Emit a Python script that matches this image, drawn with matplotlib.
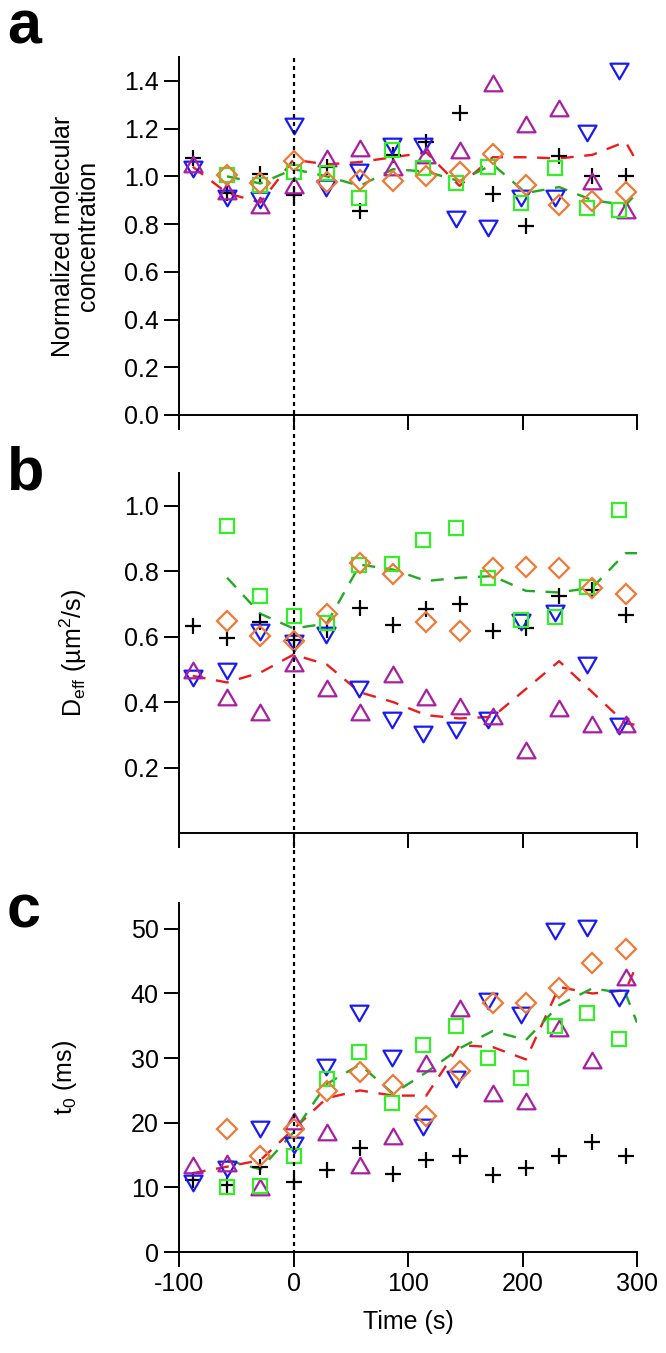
import matplotlib
matplotlib.use("Agg")
import matplotlib.pyplot as plt
from matplotlib.path import Path
from matplotlib.lines import Line2D
import matplotlib.transforms as mtransforms

plt.rcParams['font.family'] = ['Liberation Sans', 'DejaVu Sans']
plt.rcParams['mathtext.fontset'] = 'custom'
plt.rcParams['mathtext.rm'] = 'Liberation Sans'
plt.rcParams['mathtext.it'] = 'Liberation Sans:italic'
plt.rcParams['mathtext.default'] = 'regular'

# ---------------- data ----------------
t_black = [-88, -58, -29, 0, 29, 58, 87, 116, 145, 174, 203, 232, 261, 290]
t_magenta = [-88, -58, -29, 0, 29, 58, 87, 116, 145, 174, 203, 232, 261, 290]
t_blue = [-88, -58, -29, 0, 28, 57, 86, 113, 142, 170, 199, 228, 256, 284]
t_green = [-58, -29, 0, 29, 57, 86, 113, 142, 170, 199, 228, 256, 284]
t_orange = [-58, -29, 0, 29, 58, 87, 116, 145, 174, 203, 232, 261, 290]
t_red_line = [-88, -58, -29, 0, 29, 58, 87, 116, 145, 174, 203, 232, 261, 290, 300]
t_green_line = [-58, -29, 0, 29, 58, 87, 116, 145, 174, 203, 232, 261, 290, 300]

# panel a: normalized molecular concentration
a_black = [1.077, 0.93, 1.01, 0.923, 1.04, 0.856, 1.09, 1.144, 1.266, 0.926, 0.793, 1.084, 1.0, 1.0]
a_blue = [1.03, 0.91, 0.90, 1.21, 0.95, 1.02, 1.126, 1.126, 0.82, 0.783, 0.91, 0.91, 1.18, 1.44]
a_magenta = [1.05, 0.937, 0.88, 0.965, 1.077, 1.12, 1.04, 1.09, 1.11, 1.39, 1.22, 1.287, 0.98, 0.86]
a_green = [1.007, 0.965, 1.02, 1.015, 0.91, 1.11, 1.035, 0.972, 1.04, 0.888, 1.035, 0.867, 0.86]
a_orange = [1.007, 0.972, 1.063, 0.975, 0.986, 0.979, 1.0, 1.02, 1.094, 0.965, 0.88, 0.898, 0.934]
a_red_line = [1.04, 0.93, 0.89, 1.07, 1.05, 1.06, 1.08, 1.10, 0.96, 1.08, 1.08, 1.075, 1.09, 1.145, 1.06]
a_green_line = [1.0, 0.97, 1.03, 1.0, 0.96, 1.03, 1.02, 0.98, 1.05, 0.93, 0.955, 0.90, 0.88, 0.93]

# panel b: D_eff (um^2/s)
b_black = [0.634, 0.596, 0.645, 0.589, 0.621, 0.688, 0.637, 0.683, 0.70, 0.616, 0.625, 0.724, 0.741, 0.667]
b_blue = [0.473, 0.496, 0.614, 0.58, 0.606, 0.44, 0.345, 0.304, 0.314, 0.345, 0.645, 0.673, 0.514, 0.328]
b_magenta = [0.499, 0.417, 0.371, 0.519, 0.444, 0.371, 0.485, 0.417, 0.388, 0.359, 0.253, 0.383, 0.332, 0.332]
b_green = [0.939, 0.724, 0.662, 0.642, 0.819, 0.823, 0.895, 0.931, 0.78, 0.652, 0.659, 0.751, 0.987]
b_orange = [0.647, 0.601, 0.586, 0.668, 0.826, 0.79, 0.645, 0.616, 0.809, 0.813, 0.809, 0.749, 0.731]
b_red_line = [0.48, 0.46, 0.49, 0.545, 0.515, 0.43, 0.40, 0.36, 0.35, 0.355, 0.44, 0.525, 0.43, 0.335, 0.33]
b_green_line = [0.78, 0.67, 0.625, 0.64, 0.82, 0.805, 0.77, 0.78, 0.785, 0.74, 0.735, 0.75, 0.855, 0.855]

# panel c: t0 (ms)
c_black = [11.1, 10.4, 13.1, 10.9, 12.7, 16.1, 12.0, 14.3, 14.9, 11.9, 13.0, 14.9, 17.0, 14.9]
c_blue = [10.7, 12.9, 19.0, 16.5, 28.7, 37.0, 30.0, 19.4, 26.7, 38.8, 36.6, 49.6, 50.2, 39.3]
c_magenta = [13.4, 13.7, 10.1, 20.3, 18.5, 13.4, 18.0, 29.2, 37.7, 24.6, 23.4, 34.6, 29.7, 42.5]
c_green = [10.0, 10.2, 14.9, 26.7, 31.0, 23.1, 32.0, 35.0, 30.0, 27.0, 35.0, 37.0, 33.0]
c_orange = [19.0, 14.9, 19.0, 24.9, 27.9, 25.8, 21.1, 28.0, 38.6, 38.6, 40.8, 44.7, 46.9]
c_red_line = [12.2, 13.2, 14.2, 19.0, 23.8, 25.0, 24.2, 24.2, 32.0, 31.7, 29.8, 41.0, 40.0, 40.5, 44.5]
c_green_line = [14.2, 12.8, 18.5, 26.0, 29.0, 24.5, 27.8, 31.5, 34.2, 32.8, 38.2, 40.8, 40.0, 35.5]

# ---------------- style ----------------
C_BLACK = '#000000'
C_BLUE = '#1a1af2'
C_MAGENTA = '#a81fa0'
C_GREEN = '#36ee28'
C_ORANGE = '#f07a38'
C_RED_LINE = '#ec1c1c'
C_GREEN_LINE = '#22aa22'

up_tri = Path([(-1, -0.866), (1, -0.866), (0, 0.866), (-1, -0.866)],
              [Path.MOVETO, Path.LINETO, Path.LINETO, Path.CLOSEPOLY])
down_tri = Path([(-1, 0.866), (1, 0.866), (0, -0.866), (-1, 0.866)],
                [Path.MOVETO, Path.LINETO, Path.LINETO, Path.CLOSEPOLY])

W, H = 666, 1353
fig = plt.figure(figsize=(W / 100, H / 100), dpi=100)

x0, x1 = 179, 637
def add_ax(top, bottom):
    return fig.add_axes([x0 / W, 1 - bottom / H, (x1 - x0) / W, (bottom - top) / H])

ax_a = add_ax(57, 415)
ax_b = add_ax(473, 833)
ax_c = add_ax(903, 1252)

FS = 18
mew = 1.6

def draw(ax, blk, blu, mag, grn, org, rl, gl):
    ax.plot(t_red_line, rl, ls=(0, (5.5, 4.5)), color=C_RED_LINE, lw=1.7, zorder=2)
    ax.plot(t_green_line, gl, ls=(0, (5.5, 4.5)), color=C_GREEN_LINE, lw=1.7, zorder=2)
    kw = dict(ls='none', mfc='none', mew=mew, clip_on=False, zorder=3)
    ax.plot(t_black, blk, marker='+', ms=11, color=C_BLACK, **kw)
    ax.plot(t_blue, blu, marker=down_tri, ms=13, mec=C_BLUE, **kw)
    ax.plot(t_magenta, mag, marker=up_tri, ms=13, mec=C_MAGENTA, **kw)
    ax.plot(t_green, grn, marker='s', ms=9.5, mec=C_GREEN, **kw)
    ax.plot(t_orange, org, marker='D', ms=10, mec=C_ORANGE, **kw)
    ax.set_xlim(-100, 300)
    for s in ('top', 'right'):
        ax.spines[s].set_visible(False)
    for s in ('left', 'bottom'):
        ax.spines[s].set_linewidth(1.4)
    ax.tick_params(direction='out', length=10.5, width=1.4, labelsize=FS, pad=4)
    ax.set_xticks([-100, 0, 100, 200, 300])

draw(ax_a, a_black, a_blue, a_magenta, a_green, a_orange, a_red_line, a_green_line)
draw(ax_b, b_black, b_blue, b_magenta, b_green, b_orange, b_red_line, b_green_line)
draw(ax_c, c_black, c_blue, c_magenta, c_green, c_orange, c_red_line, c_green_line)

ax_a.set_ylim(0, 1.5)
ax_a.set_yticks([0.0, 0.2, 0.4, 0.6, 0.8, 1.0, 1.2, 1.4])
ax_a.set_yticklabels(['0.0', '0.2', '0.4', '0.6', '0.8', '1.0', '1.2', '1.4'])
ax_a.set_xticklabels([])

ax_b.set_ylim(0, 1.1)
ax_b.set_yticks([0.2, 0.4, 0.6, 0.8, 1.0])
ax_b.set_yticklabels(['0.2', '0.4', '0.6', '0.8', '1.0'])
ax_b.set_xticklabels([])

ax_c.set_ylim(0, 54)
ax_c.set_yticks([0, 10, 20, 30, 40, 50])
ax_c.set_xticklabels(['-100', '0', '100', '200', '300'])
ax_c.set_xlabel('Time (s)', fontsize=FS, labelpad=10)

ax_a.set_ylabel('Normalized molecular\nconcentration', fontsize=FS, linespacing=1.05)
ax_a.yaxis.set_label_coords((100 - x0) / (x1 - x0), 0.5)
ax_b.set_ylabel('D$_{eff}$ (µm$^{2}$/s)', fontsize=FS)
ax_b.yaxis.set_label_coords((89 - x0) / (x1 - x0), 0.5)
ax_c.set_ylabel('t$_{0}$ (ms)', fontsize=FS)
ax_c.yaxis.set_label_coords((79 - x0) / (x1 - x0), 0.5)

# panel letters
for letter, ybase in (('a', 43), ('b', 490), ('c', 927)):
    fig.text(7 / W, 1 - ybase / H, letter, fontsize=44, fontweight='bold',
             ha='left', va='baseline')

# vertical dotted line at t = 0 across all panels
trans = mtransforms.blended_transform_factory(ax_c.transData, fig.transFigure)
fig.add_artist(Line2D([0, 0], [1 - 58 / H, 1 - 1252 / H], transform=trans,
                      color='black', lw=1.6, ls=(0, (1.8, 1.8)), zorder=1))

fig.savefig('out.png', dpi=100)
